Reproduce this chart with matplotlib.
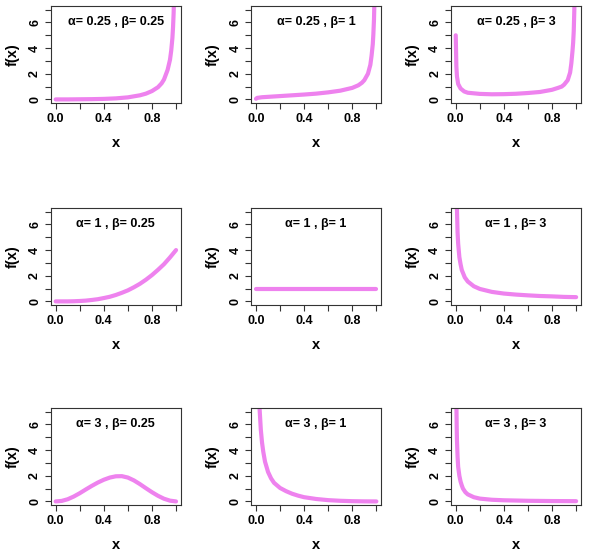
import matplotlib
matplotlib.use('Agg')
import matplotlib.pyplot as plt

# panel titles (row by row)
alphas = ['0.25', '0.25', '0.25', '1', '1', '1', '3', '3', '3']
betas = ['0.25', '1', '3', '0.25', '1', '3', '0.25', '1', '3']

# curves
x1 = [0, 0.1, 0.2, 0.3, 0.4, 0.5, 0.6, 0.7, 0.75, 0.8, 0.85, 0.88, 0.9, 0.93, 0.95, 0.96, 0.97, 0.975, 0.98, 0.985, 0.99]
y1 = [0, 0, 0.01, 0.02, 0.04, 0.08, 0.16, 0.32, 0.45, 0.65, 0.95, 1.25, 1.55, 2.3, 3.1, 3.8, 4.8, 5.6, 6.7, 8.5, 11]

x2 = [0, 0.01, 0.05, 0.1, 0.2, 0.3, 0.4, 0.5, 0.6, 0.7, 0.8, 0.85, 0.88, 0.9, 0.93, 0.95, 0.96, 0.97, 0.975, 0.98, 0.99]
y2 = [0.05, 0.12, 0.17, 0.2, 0.26, 0.32, 0.38, 0.45, 0.55, 0.68, 0.9, 1.1, 1.3, 1.5, 2.0, 2.7, 3.4, 4.3, 5.1, 6.2, 10]

x3 = [0, 0.005, 0.01, 0.02, 0.04, 0.07, 0.1, 0.2, 0.3, 0.4, 0.5, 0.6, 0.7, 0.8, 0.85, 0.88, 0.9, 0.93, 0.95, 0.96, 0.97, 0.975, 0.98, 0.985, 0.99]
y3 = [5.0, 2.6, 1.8, 1.2, 0.85, 0.62, 0.52, 0.43, 0.4, 0.41, 0.44, 0.5, 0.58, 0.75, 0.9, 1.0, 1.15, 1.5, 2.1, 2.8, 3.8, 4.4, 5.3, 7.0, 10]

x4 = [0, 0.05, 0.1, 0.15, 0.2, 0.25, 0.3, 0.35, 0.4, 0.45, 0.5, 0.55, 0.6, 0.65, 0.7, 0.75, 0.8, 0.85, 0.9, 0.95, 1.0]
y4 = [0, 0, 0, 0.01, 0.03, 0.06, 0.11, 0.17, 0.26, 0.36, 0.5, 0.67, 0.86, 1.1, 1.37, 1.69, 2.05, 2.46, 2.9, 3.43, 4.0]

x5 = [0, 1.0]
y5 = [1.0, 1.0]

x6 = [0.005, 0.0075, 0.01, 0.015, 0.02, 0.03, 0.04, 0.05, 0.075, 0.1, 0.15, 0.2, 0.3, 0.4, 0.5, 0.6, 0.7, 0.8, 0.9, 1.0]
y6 = [11.4, 9.0, 7.2, 5.4, 4.5, 3.45, 2.9, 2.45, 1.87, 1.55, 1.18, 0.97, 0.74, 0.61, 0.53, 0.47, 0.42, 0.39, 0.35, 0.33]

x7 = [0, 0.05, 0.1, 0.15, 0.2, 0.25, 0.3, 0.35, 0.4, 0.45, 0.5, 0.55, 0.6, 0.65, 0.7, 0.75, 0.8, 0.85, 0.9, 0.95, 1.0]
y7 = [0, 0.04, 0.17, 0.38, 0.64, 0.93, 1.21, 1.47, 1.69, 1.86, 1.96, 1.97, 1.86, 1.64, 1.35, 1.03, 0.72, 0.44, 0.21, 0.06, 0]

x8 = [0.02, 0.03, 0.04, 0.05, 0.06, 0.075, 0.1, 0.125, 0.15, 0.2, 0.25, 0.3, 0.35, 0.4, 0.5, 0.6, 0.7, 0.8, 0.9, 1.0]
y8 = [9.5, 7.2, 5.6, 4.6, 3.9, 3.1, 2.3, 1.8, 1.45, 1.05, 0.8, 0.6, 0.45, 0.33, 0.19, 0.1, 0.05, 0.02, 0.005, 0]

x9 = [0.004, 0.006, 0.008, 0.01, 0.015, 0.02, 0.03, 0.04, 0.05, 0.06, 0.08, 0.1, 0.15, 0.2, 0.3, 0.4, 0.6, 0.8, 1.0]
y9 = [10, 7.2, 5.8, 4.8, 3.5, 2.7, 2.0, 1.55, 1.25, 1.0, 0.72, 0.55, 0.33, 0.22, 0.13, 0.09, 0.05, 0.03, 0.02]

xs = [x1, x2, x3, x4, x5, x6, x7, x8, x9]
ys = [y1, y2, y3, y4, y5, y6, y7, y8, y9]

xticks = [0, 0.2, 0.4, 0.6, 0.8, 1.0]
xticklabels = ['0.0', '', '0.4', '', '0.8', '']
yticks = [0, 1, 2, 3, 4, 5, 6, 7]
yticklabels = ['0', '', '2', '', '4', '', '6', '']

plt.rcParams['font.family'] = ['Liberation Sans', 'DejaVu Sans']
plt.rcParams['font.weight'] = 'bold'

fig = plt.figure(figsize=(5.91, 5.52), dpi=100)

lefts = [0.086, 0.425, 0.763]
bottoms = [0.8134, 0.4475, 0.0851]
w = 0.22
h = 0.1757

for i in range(9):
    r = i // 3
    c = i % 3
    ax = fig.add_axes([lefts[c], bottoms[r], w, h])
    ax.plot(xs[i], ys[i], color='violet', lw=3, solid_capstyle='round', solid_joinstyle='round')
    ax.set_xlim(-0.04, 1.04)
    ax.set_ylim(-0.28, 7.28)
    ax.set_xticks(xticks)
    ax.set_xticklabels(xticklabels, fontsize=9, fontweight='bold')
    ax.set_yticks(yticks)
    ax.set_yticklabels(yticklabels, fontsize=9, fontweight='bold', rotation=90, va='center')
    ax.tick_params(length=4, width=0.8, pad=3, color='#333333')
    for s in ax.spines.values():
        s.set_linewidth(0.8)
        s.set_color('#333333')
    ax.set_xlabel('x', fontsize=10.5, fontweight='bold', labelpad=8)
    ax.set_ylabel('f(x)', fontsize=10.5, fontweight='bold', labelpad=7)
    # parameter label inside the panel
    ax.text(0.5, 6.0, 'α= ' + alphas[i] + ' , β= ' + betas[i], ha='center', va='center',
            fontsize=9, fontweight='bold')

fig.savefig('out.png', dpi=100)
